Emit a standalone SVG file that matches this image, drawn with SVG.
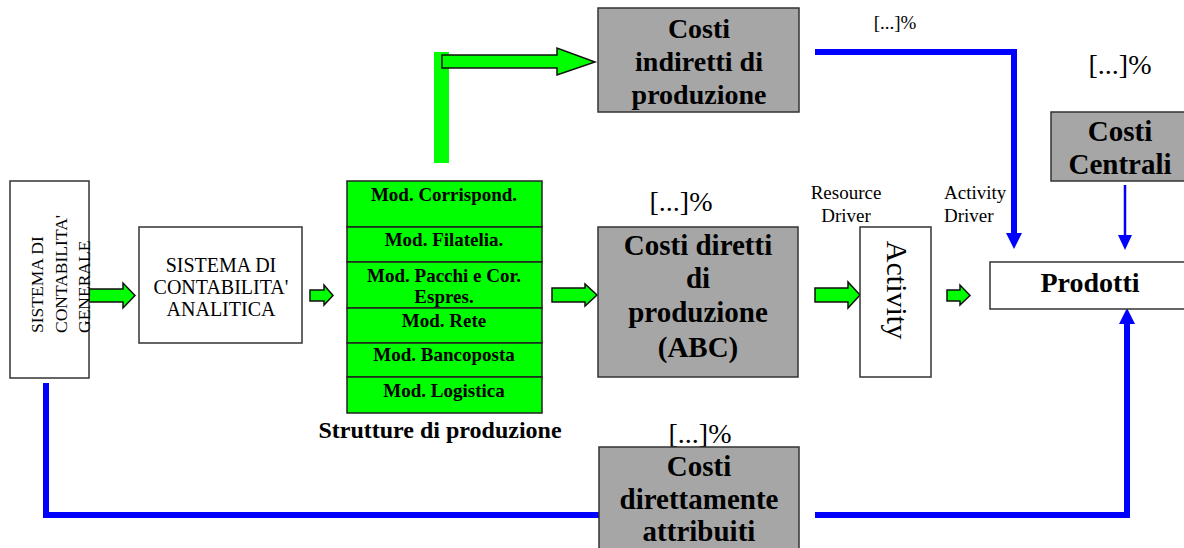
<svg xmlns="http://www.w3.org/2000/svg" width="1184" height="548" viewBox="0 0 1184 548">
<style>
.box{fill:#ffffff;stroke:#333333;stroke-width:1.5}
.gray{fill:#a6a6a6;stroke:#333333;stroke-width:1.5}
.grn{fill:#00ff00;stroke:#222222;stroke-width:1.5}
.garr{fill:#00ff00;stroke:#111111;stroke-width:1.5;stroke-linejoin:miter}
.t{font-family:"Liberation Serif","Times New Roman",serif;fill:#000000}
.b{font-weight:bold}
.blue{fill:none;stroke:#0000ff;stroke-width:6;stroke-linecap:square;stroke-linejoin:miter}
.bluethin{fill:none;stroke:#0000ff;stroke-width:2.5}
.bhead{fill:#0000ff}
</style>
<rect width="1184" height="548" fill="#ffffff"/>

<g id="connectors">
  <polyline class="blue" points="818,52 1014,52 1014,234"/>
  <polygon class="bhead" points="1006,233 1022,233 1014,249"/>
  <line class="bluethin" x1="1125" y1="185" x2="1125" y2="237"/>
  <polygon class="bhead" points="1118,235 1132,235 1125,250"/>
  <polyline class="blue" points="46,386 46,515 596,515"/>
  <polyline class="blue" points="818,515 1127,515 1127,324"/>
  <polygon class="bhead" points="1119,324 1135,324 1127,308"/>
  <polygon class="garr" points="89,289 123,289 123,283 135,295.5 123,308 123,302 89,302"/>
  <polygon class="garr" points="310,290 324,290 324,285 333,295.5 324,305 324,301 310,301"/>
  <polygon class="garr" points="552,288 585,288 585,284 597,295 585,306 585,302 552,302"/>
  <polygon class="garr" points="815,288 848,288 848,282 860,295 848,308 848,302 815,302"/>
  <polygon class="garr" points="947,290 960,290 960,285 970,295.5 960,305 960,301 947,301"/>
  <rect x="434" y="52" width="15" height="111" fill="#00ff00"/>
  <polygon class="garr" points="442,55 557,55 557,48 595,62 557,75 557,68 442,68"/>
</g>

<g id="scg">
  <rect class="box" x="10" y="181" width="79" height="197"/>
  <g class="t" font-size="17.5">
    <text transform="translate(43,333) rotate(-90)">SISTEMA DI</text>
    <text transform="translate(67,333) rotate(-90)">CONTABILITA'</text>
    <text transform="translate(90,333) rotate(-90)">GENERALE</text>
  </g>
</g>

<g id="sca">
  <rect class="box" x="139" y="227" width="163" height="116"/>
  <g class="t" font-size="20" text-anchor="middle">
    <text x="221" y="272">SISTEMA DI</text>
    <text x="221" y="294">CONTABILITA'</text>
    <text x="221" y="316">ANALITICA</text>
  </g>
</g>

<g id="strutture">
  <rect class="grn" x="347" y="181" width="195" height="46"/>
  <rect class="grn" x="347" y="227" width="195" height="35"/>
  <rect class="grn" x="347" y="262" width="195" height="46"/>
  <rect class="grn" x="347" y="308" width="195" height="35"/>
  <rect class="grn" x="347" y="343" width="195" height="34"/>
  <rect class="grn" x="347" y="377" width="195" height="36"/>
  <g class="t b" font-size="19" text-anchor="middle">
    <text x="444" y="201">Mod. Corrispond.</text>
    <text x="444" y="246">Mod. Filatelia.</text>
    <text x="444" y="282">Mod. Pacchi e Cor.</text>
    <text x="444" y="303">Espres.</text>
    <text x="444" y="327">Mod. Rete</text>
    <text x="444" y="361">Mod. Bancoposta</text>
    <text x="444" y="397">Mod. Logistica</text>
  </g>
  <text class="t b" font-size="24" x="440" y="438" text-anchor="middle">Strutture di produzione</text>
</g>

<g id="costi-indiretti">
  <rect class="gray" x="598" y="8" width="201" height="104"/>
  <g class="t b" font-size="28" text-anchor="middle">
    <text x="699" y="38">Costi</text>
    <text x="699" y="71">indiretti di</text>
    <text x="699" y="104">produzione</text>
  </g>
</g>

<g id="costi-diretti">
  <text class="t" font-size="28" x="681" y="211" text-anchor="middle">[...]%</text>
  <rect class="gray" x="598" y="227" width="200" height="150"/>
  <g class="t b" font-size="29" text-anchor="middle">
    <text x="698" y="255">Costi diretti</text>
    <text x="698" y="288">di</text>
    <text x="698" y="322">produzione</text>
    <text x="698" y="357">(ABC)</text>
  </g>
</g>

<g id="activity">
  <text class="t" font-size="19" x="846" y="199" text-anchor="middle">Resource</text>
  <text class="t" font-size="19" x="846" y="222" text-anchor="middle">Driver</text>
  <rect class="box" x="860" y="227" width="71" height="150"/>
  <text class="t" font-size="30" transform="translate(887,290) rotate(90)" text-anchor="middle">Activity</text>
</g>

<g id="activity-driver">
  <text class="t" font-size="19" x="944" y="199">Activity</text>
  <text class="t" font-size="19" x="944" y="222">Driver</text>
</g>

<g id="labels-top">
  <text class="t" font-size="19" x="895" y="29" text-anchor="middle">[...]%</text>
  <text class="t" font-size="28" x="1120" y="74" text-anchor="middle">[...]%</text>
</g>

<g id="costi-centrali">
  <rect class="gray" x="1051" y="112" width="140" height="69"/>
  <g class="t b" font-size="29" text-anchor="middle">
    <text x="1120" y="141">Costi</text>
    <text x="1120" y="174">Centrali</text>
  </g>
</g>

<g id="prodotti">
  <rect class="box" x="990" y="262" width="200" height="47"/>
  <text class="t b" font-size="28" x="1090" y="292" text-anchor="middle">Prodotti</text>
</g>

<g id="costi-direttamente">
  <text class="t" font-size="28" x="700" y="443" text-anchor="middle">[...]%</text>
  <rect class="gray" x="599" y="447" width="200" height="105"/>
  <g class="t b" font-size="29" text-anchor="middle">
    <text x="699" y="476">Costi</text>
    <text x="699" y="509">direttamente</text>
    <text x="699" y="541">attribuiti</text>
  </g>
</g>
</svg>
